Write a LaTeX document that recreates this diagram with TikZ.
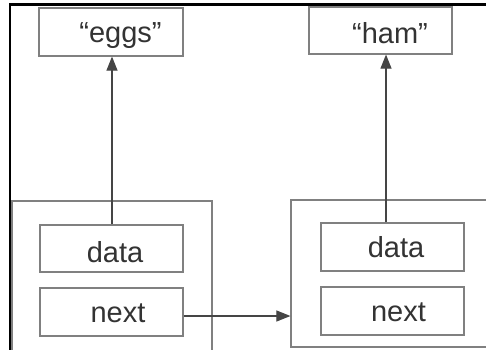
\documentclass[tikz,border=0pt]{standalone}
\usepackage{fontspec}
\setmainfont{Liberation Sans}
\usetikzlibrary{arrows.meta}
\definecolor{boxgray}{HTML}{808080}
\definecolor{arrgray}{HTML}{454545}
\definecolor{txtgray}{HTML}{333333}
\begin{document}
\begin{tikzpicture}[x=1pt,y=1pt,
  cell/.style={draw=boxgray,line width=1.2pt,fill=white,rectangle,inner sep=0pt,minimum width=143pt,minimum height=48pt},
  outerbox/.style={draw=boxgray,line width=1.2pt,rectangle,inner sep=0pt},
  txt/.style={text=txtgray,inner sep=0pt,anchor=base,font=\fontsize{29}{34}\selectfont},
  arr/.style={draw=arrgray,line width=1.1pt,-{Triangle[length=14pt,width=11pt]}}]
\useasboundingbox (0,0) rectangle (486,349);
\fill[white] (0,0) rectangle (486,349);
% outer boxes
\node[outerbox,minimum width=200pt,minimum height=170pt] (L) at (112,63) {};
\node[outerbox,minimum width=220pt,minimum height=147pt] (R) at (401,75.5) {};
% frame
\draw[black,line width=2.5pt,line join=miter] (10,-2) -- (10,344.5) -- (488,344.5);
% cells
\node[cell,minimum width=144pt] (eggs) at (111,317) {};
\node[cell,minimum height=47pt] (ham) at (380.5,318.5) {};
\node[cell,minimum height=47pt] (ldata) at (111.5,100.5) {};
\node[cell] (lnext) at (111.5,37) {};
\node[cell] (rdata) at (392.5,102) {};
\node[cell] (rnext) at (392.5,38) {};
% texts
\node[txt] (teggs) at (120.5,307) {“eggs”};
\node[txt] (tham) at (390,306) {“ham”};
\node[txt] (tldata) at (115,87) {data};
\node[txt] (tlnext) at (118,27) {next};
\node[txt] (trdata) at (396,92) {data};
\node[txt] (trnext) at (398.5,28) {next};
% arrows
\draw[arr] ([xshift=0.5pt]ldata.north) -- ([xshift=1pt]eggs.south);
\draw[arr] ([xshift=-6.5pt]rdata.north) -- ([xshift=5.5pt]ham.south);
\draw[arr] ([yshift=-4pt]lnext.east) -- ([yshift=-4pt]lnext.east -| R.west);
\end{tikzpicture}
\end{document}
